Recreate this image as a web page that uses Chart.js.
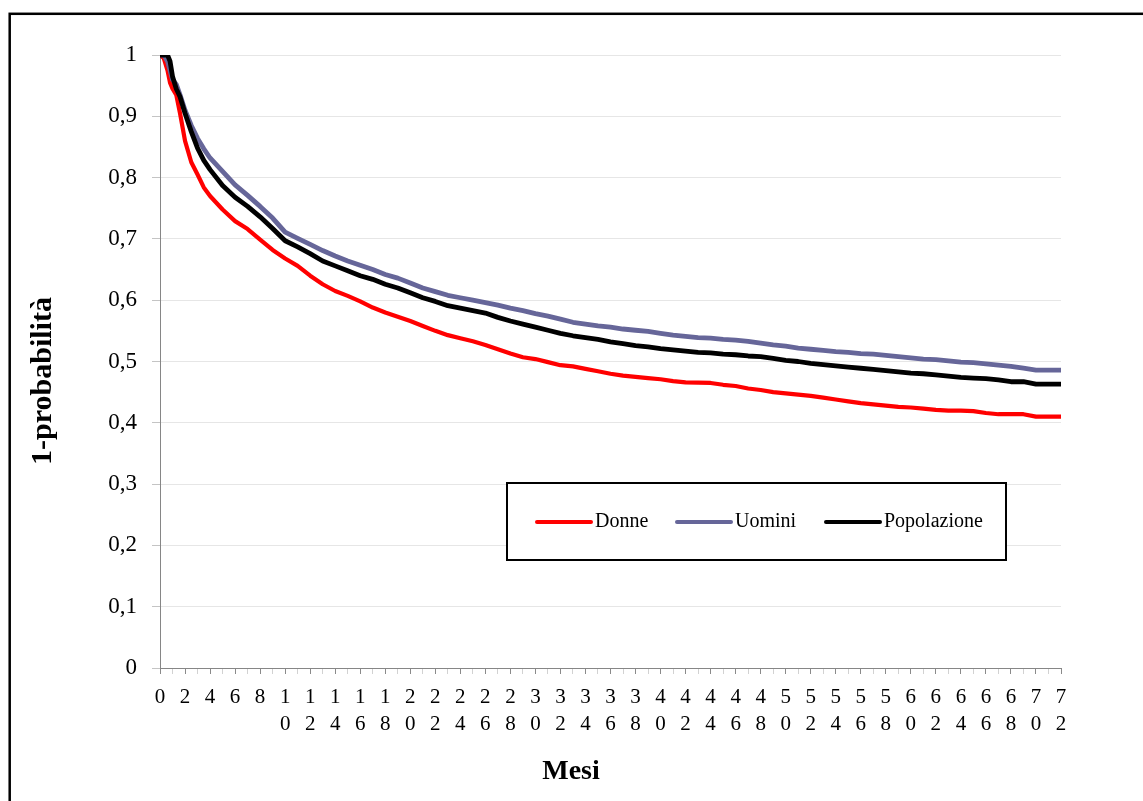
<!DOCTYPE html>
<html lang="it">
<head>
<meta charset="utf-8">
<title>1-probabilità per mesi</title>
<script src="https://cdn.jsdelivr.net/npm/chart.js@4.4.1/dist/chart.umd.min.js"></script>
<style>
  html, body { margin: 0; padding: 0; background: #ffffff; }
  #wrap { width: 1143px; height: 801px; }
</style>
</head>
<body>
<div id="wrap"><canvas id="km" width="1143" height="801"></canvas></div>
<script>
// Mesi di osservazione (più fitti nei primi mesi, dove le curve scendono rapidamente)
const mesi = [0, 0.3, 0.6, 0.8, 1, 1.3, 1.6, 2, 2.5, 3, 3.5, 4,
  5, 6, 7, 8, 9, 10, 11, 12, 13, 14, 15, 16, 17, 18, 19, 20, 21, 22, 23, 24,
  25, 26, 27, 28, 29, 30, 31, 32, 33, 34, 35, 36, 37, 38, 39, 40, 41, 42, 43, 44,
  45, 46, 47, 48, 49, 50, 51, 52, 53, 54, 55, 56, 57, 58, 59, 60, 61, 62, 63, 64,
  65, 66, 67, 68, 69, 70, 71, 72];

const donne = [1.000, 0.995, 0.975, 0.955, 0.945, 0.935, 0.905, 0.860, 0.825, 0.805, 0.784, 0.770,
  0.748, 0.729, 0.716, 0.699, 0.682, 0.668, 0.656, 0.640, 0.626, 0.615, 0.607, 0.598, 0.588, 0.580, 0.573, 0.566, 0.558, 0.550, 0.543, 0.538,
  0.533, 0.527, 0.520, 0.513, 0.507, 0.504, 0.499, 0.494, 0.492, 0.488, 0.484, 0.480, 0.477, 0.475, 0.473, 0.471, 0.468, 0.466, 0.4655, 0.465,
  0.462, 0.460, 0.456, 0.4535, 0.450, 0.448, 0.446, 0.444, 0.441, 0.438, 0.435, 0.432, 0.430, 0.428, 0.426, 0.425, 0.423, 0.421, 0.420, 0.420,
  0.419, 0.416, 0.414, 0.414, 0.414, 0.410, 0.410, 0.410];

const uomini = [1.000, 1.000, 0.990, 0.975, 0.960, 0.952, 0.935, 0.910, 0.885, 0.864, 0.847, 0.832,
  0.810, 0.788, 0.771, 0.753, 0.734, 0.711, 0.701, 0.691, 0.681, 0.672, 0.664, 0.657, 0.650, 0.642, 0.636, 0.628, 0.620, 0.614, 0.608, 0.604,
  0.600, 0.596, 0.592, 0.587, 0.583, 0.578, 0.574, 0.569, 0.564, 0.561, 0.558, 0.556, 0.553, 0.551, 0.549, 0.546, 0.543, 0.541, 0.539, 0.538,
  0.536, 0.535, 0.533, 0.530, 0.527, 0.525, 0.522, 0.520, 0.518, 0.516, 0.515, 0.513, 0.512, 0.510, 0.508, 0.506, 0.504, 0.503, 0.501, 0.499,
  0.498, 0.496, 0.494, 0.492, 0.489, 0.486, 0.486, 0.486];

const popolazione = [1.000, 1.000, 1.000, 0.990, 0.965, 0.945, 0.932, 0.905, 0.875, 0.848, 0.828, 0.813,
  0.787, 0.768, 0.753, 0.736, 0.717, 0.697, 0.687, 0.676, 0.664, 0.656, 0.648, 0.640, 0.634, 0.626, 0.620, 0.612, 0.604, 0.598, 0.591, 0.587,
  0.583, 0.579, 0.572, 0.566, 0.561, 0.556, 0.551, 0.546, 0.542, 0.539, 0.536, 0.532, 0.529, 0.526, 0.524, 0.521, 0.519, 0.517, 0.515, 0.514,
  0.512, 0.511, 0.509, 0.508, 0.505, 0.502, 0.500, 0.497, 0.495, 0.493, 0.491, 0.489, 0.487, 0.485, 0.483, 0.481, 0.480, 0.478, 0.476, 0.474,
  0.473, 0.472, 0.470, 0.467, 0.467, 0.463, 0.463, 0.463];

const nomiSerie = ['Donne', 'Uomini', 'Popolazione'];
const coloriSerie = ['#ff0000', '#666699', '#000000'];
const tickY = [0, 0.1, 0.2, 0.3, 0.4, 0.5, 0.6, 0.7, 0.8, 0.9, 1];

const SERIF = "'Liberation Serif', 'Times New Roman', serif";

function punti(valori) {
  return mesi.map((m, i) => ({ x: m, y: valori[i] }));
}

// Sfondo bianco e cornice esterna
const cornice = {
  id: 'cornice',
  beforeDraw(chart) {
    const ctx = chart.ctx;
    ctx.save();
    ctx.fillStyle = '#ffffff';
    ctx.fillRect(0, 0, chart.width, chart.height);
    ctx.restore();
  },
  afterDraw(chart) {
    const ctx = chart.ctx;
    ctx.save();
    ctx.strokeStyle = '#000000';
    ctx.lineWidth = 2.5;
    ctx.strokeRect(9.7, 13.8, chart.width + 40, chart.height + 40);
    ctx.restore();
  }
};

// Titoli degli assi
const titoli = {
  id: 'titoli',
  afterDraw(chart) {
    const ctx = chart.ctx;
    ctx.save();
    ctx.fillStyle = '#000000';
    ctx.textAlign = 'center';
    ctx.textBaseline = 'middle';
    ctx.font = 'bold 28px ' + SERIF;
    ctx.fillText('Mesi', 571, 772);
    ctx.font = 'bold 30px ' + SERIF;
    ctx.translate(43, 381);
    ctx.rotate(-Math.PI / 2);
    ctx.fillText('1-probabilità', 0, 0);
    ctx.restore();
  }
};

// Legenda nel riquadro dentro l'area del grafico
const legendaRiquadro = {
  id: 'legendaRiquadro',
  afterDatasetsDraw(chart) {
    const ctx = chart.ctx;
    ctx.save();
    ctx.fillStyle = '#ffffff';
    ctx.fillRect(507, 483, 499, 77);
    ctx.strokeStyle = '#000000';
    ctx.lineWidth = 2;
    ctx.strokeRect(507, 483, 499, 77);
    const yc = 522;
    const inizi = [537, 677, 826];
    ctx.font = '20px ' + SERIF;
    ctx.textBaseline = 'middle';
    ctx.textAlign = 'left';
    chart.data.datasets.forEach((ds, i) => {
      const x0 = inizi[i];
      ctx.strokeStyle = ds.borderColor;
      ctx.lineWidth = 4;
      ctx.lineCap = 'round';
      ctx.beginPath();
      ctx.moveTo(x0, yc);
      ctx.lineTo(x0 + 54, yc);
      ctx.stroke();
      ctx.fillStyle = '#000000';
      ctx.fillText(ds.label, x0 + 58, yc);
    });
    ctx.restore();
  }
};

const serie = [donne, uomini, popolazione];

new Chart(document.getElementById('km'), {
  type: 'line',
  data: {
    datasets: serie.map((valori, i) => ({
      label: nomiSerie[i],
      data: punti(valori),
      borderColor: coloriSerie[i],
      backgroundColor: coloriSerie[i],
      borderWidth: i === 0 ? 4.2 : 4.8,
      pointRadius: 0,
      tension: 0,
      fill: false,
      borderJoinStyle: 'round',
      borderCapStyle: 'round',
      order: 2 - i
    }))
  },
  options: {
    responsive: false,
    animation: false,
    devicePixelRatio: 1,
    layout: { padding: { left: 0, top: 55, right: 82, bottom: 0 } },
    plugins: {
      legend: { display: false },
      tooltip: { enabled: false },
      title: { display: false }
    },
    scales: {
      x: {
        type: 'linear',
        min: 0,
        max: 72,
        afterFit(scale) { scale.height = 133; },
        border: { display: true, color: '#868686', width: 1 },
        grid: {
          drawOnChartArea: false,
          drawTicks: true,
          tickLength: 6,
          tickColor: (c) => (c.tick && c.tick.value % 2 === 0) ? '#8a8a8a' : '#d2d2d2'
        },
        ticks: {
          stepSize: 1,
          autoSkip: false,
          maxRotation: 0,
          minRotation: 0,
          padding: 10,
          color: '#000000',
          font: { family: SERIF, size: 21, lineHeight: 1.3 },
          callback: (v) => {
            if (v % 2 !== 0) return '';
            const s = String(v);
            return s.length > 1 ? s.split('') : s;
          }
        }
      },
      y: {
        min: 0,
        max: 1,
        afterFit(scale) { scale.width = 160; },
        afterBuildTicks(scale) { scale.ticks = tickY.map(v => ({ value: v })); },
        border: { display: true, color: '#868686', width: 1 },
        grid: {
          color: '#e6e6e6',
          lineWidth: 1,
          drawTicks: true,
          tickLength: 8,
          tickColor: '#c4c4c4'
        },
        ticks: {
          padding: 15,
          color: '#000000',
          font: { family: SERIF, size: 23 },
          callback: (v) => (v === 0 || v === 1) ? String(v) : v.toFixed(1).replace('.', ',')
        }
      }
    }
  },
  plugins: [cornice, legendaRiquadro, titoli]
});
</script>
</body>
</html>
